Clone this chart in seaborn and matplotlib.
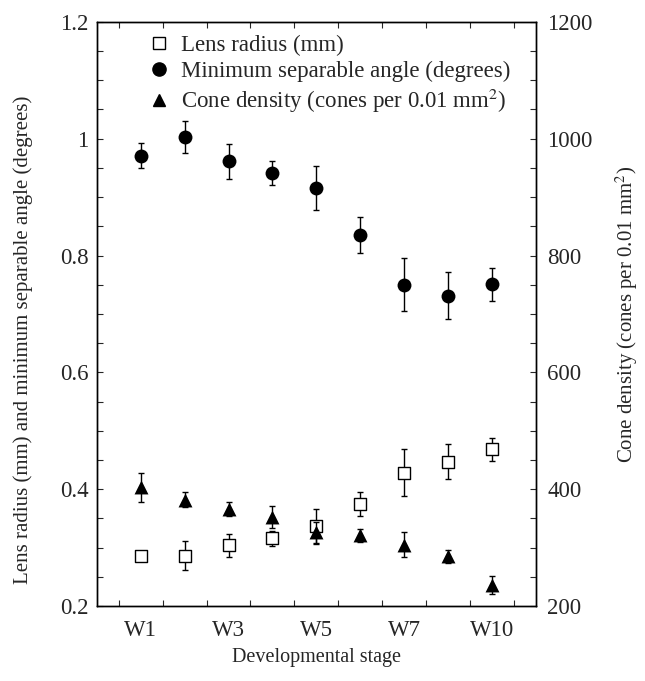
import numpy as np
import pandas as pd
import matplotlib
matplotlib.use("Agg")
import matplotlib.pyplot as plt
from matplotlib.lines import Line2D
import seaborn as sns

# ---- data ----
stages = ["W1", "W2", "W3", "W4", "W5", "W6", "W7", "W8", "W10"]
tick_labels = ["W1", "W3", "W5", "W7", "W10"]

lens_radius = [0.286, 0.286, 0.304, 0.316, 0.337, 0.375, 0.428, 0.447, 0.468]
lens_err = [0.004, 0.025, 0.020, 0.013, 0.030, 0.020, 0.040, 0.030, 0.019]

min_angle = [0.971, 1.003, 0.961, 0.941, 0.916, 0.835, 0.750, 0.731, 0.751]
min_angle_err = [0.021, 0.028, 0.030, 0.020, 0.038, 0.031, 0.045, 0.040, 0.028]

cone_density = [403, 382, 366, 353, 326, 321, 305, 285, 236]
cone_err = [25, 13, 12, 19, 18, 11, 21, 11, 15]

# ---- styling ----
sns.set_style("ticks")
plt.rcParams["font.family"] = ["Liberation Serif", "DejaVu Serif"]
plt.rcParams["mathtext.fontset"] = "stix"
plt.rcParams["xtick.direction"] = "in"
plt.rcParams["ytick.direction"] = "in"

pos = np.arange(1, len(stages) + 1)
df = pd.DataFrame({
    "pos": pos,
    "stage": stages,
    "lens": lens_radius,
    "lens_err": lens_err,
    "angle": min_angle,
    "angle_err": min_angle_err,
    "cone": cone_density,
    "cone_err": cone_err,
})

fig = plt.figure(figsize=(6.45, 6.81), dpi=100)
ax = fig.add_axes([0.150, 0.110, 0.681, 0.858])
ax2 = ax.twinx()

ekw = dict(fmt="none", ecolor="black", elinewidth=1.0, capsize=2.5, capthick=1.0)

# Left axis: lens radius (open squares) and min separable angle (filled circles)
ax.errorbar(df["pos"], df["angle"], yerr=df["angle_err"], zorder=2, **ekw)
ax.errorbar(df["pos"], df["lens"], yerr=df["lens_err"], zorder=2, **ekw)
sns.scatterplot(data=df, x="pos", y="angle", ax=ax, marker="o", s=100,
                color="black", edgecolor="black", linewidth=0, zorder=3, legend=False)
sns.scatterplot(data=df, x="pos", y="lens", ax=ax, marker="s", s=85,
                facecolor="white", edgecolor="black", linewidth=1.0, zorder=3, legend=False)

# Right axis: cone density (filled triangles)
ax2.errorbar(df["pos"], df["cone"], yerr=df["cone_err"], zorder=2, **ekw)
sns.scatterplot(data=df, x="pos", y="cone", ax=ax2, marker="^", s=100,
                color="black", edgecolor="black", linewidth=0, zorder=3, legend=False)

# Axes limits and ticks
ax.set_xlim(0, 10)
ax.set_ylim(0.2, 1.2)
ax2.set_ylim(200, 1200)

ax.set_xticks([1, 3, 5, 7, 9])
ax.set_xticklabels(tick_labels)
ax.set_xticks(np.arange(0.5, 10, 1.0), minor=True)
ax.tick_params(axis="x", which="major", length=0, pad=10, labelsize=16.5)
ax.tick_params(axis="x", which="minor", length=4, width=0.8, top=True, bottom=True)

ax.set_yticks([0.2, 0.4, 0.6, 0.8, 1.0, 1.2])
ax.set_yticklabels(["0.2", "0.4", "0.6", "0.8", "1", "1.2"])
ax.set_yticks(np.arange(0.2, 1.2001, 0.05), minor=True)
ax.tick_params(axis="y", which="major", length=4, width=0.8, labelsize=16.5, pad=6)
ax.tick_params(axis="y", which="minor", length=4, width=0.8)

ax2.set_yticks([200, 400, 600, 800, 1000, 1200])
ax2.set_yticks(np.arange(200, 1201, 50), minor=True)
ax2.tick_params(axis="y", which="major", length=4, width=0.8, labelsize=16.5, pad=8)
ax2.tick_params(axis="y", which="minor", length=4, width=0.8)

ax.set_xlabel("Developmental stage", fontsize=14.5, labelpad=5)
ax.set_ylabel("Lens radius (mm) and minimum separable angle (degrees)", fontsize=15)
ax.yaxis.set_label_coords(-0.145, 0.455)
ax2.set_ylabel("Cone density (cones per 0.01 mm$^2$)", fontsize=15, labelpad=15)

for a in (ax, ax2):
    for sp in a.spines.values():
        sp.set_visible(True)
        sp.set_linewidth(1.0)
        sp.set_color("black")

# Legend
handles = [
    Line2D([], [], linestyle="none", marker="s", markersize=8.5, markerfacecolor="white",
           markeredgecolor="black", markeredgewidth=1.0),
    Line2D([], [], linestyle="none", marker="o", markersize=9.5, color="black"),
    Line2D([], [], linestyle="none", marker="^", markersize=8.5, color="black"),
]
labels = ["Lens radius (mm)", "Minimum separable angle (degrees)",
          "Cone density (cones per 0.01 mm$^2$)"]
ax2.legend(handles, labels, loc="upper left", bbox_to_anchor=(0.085, 1.005),
           frameon=False, fontsize=16.5, handlelength=0.8, handletextpad=0.55,
           labelspacing=0.2, borderaxespad=0.3)

fig.savefig("out.png", dpi=100)
